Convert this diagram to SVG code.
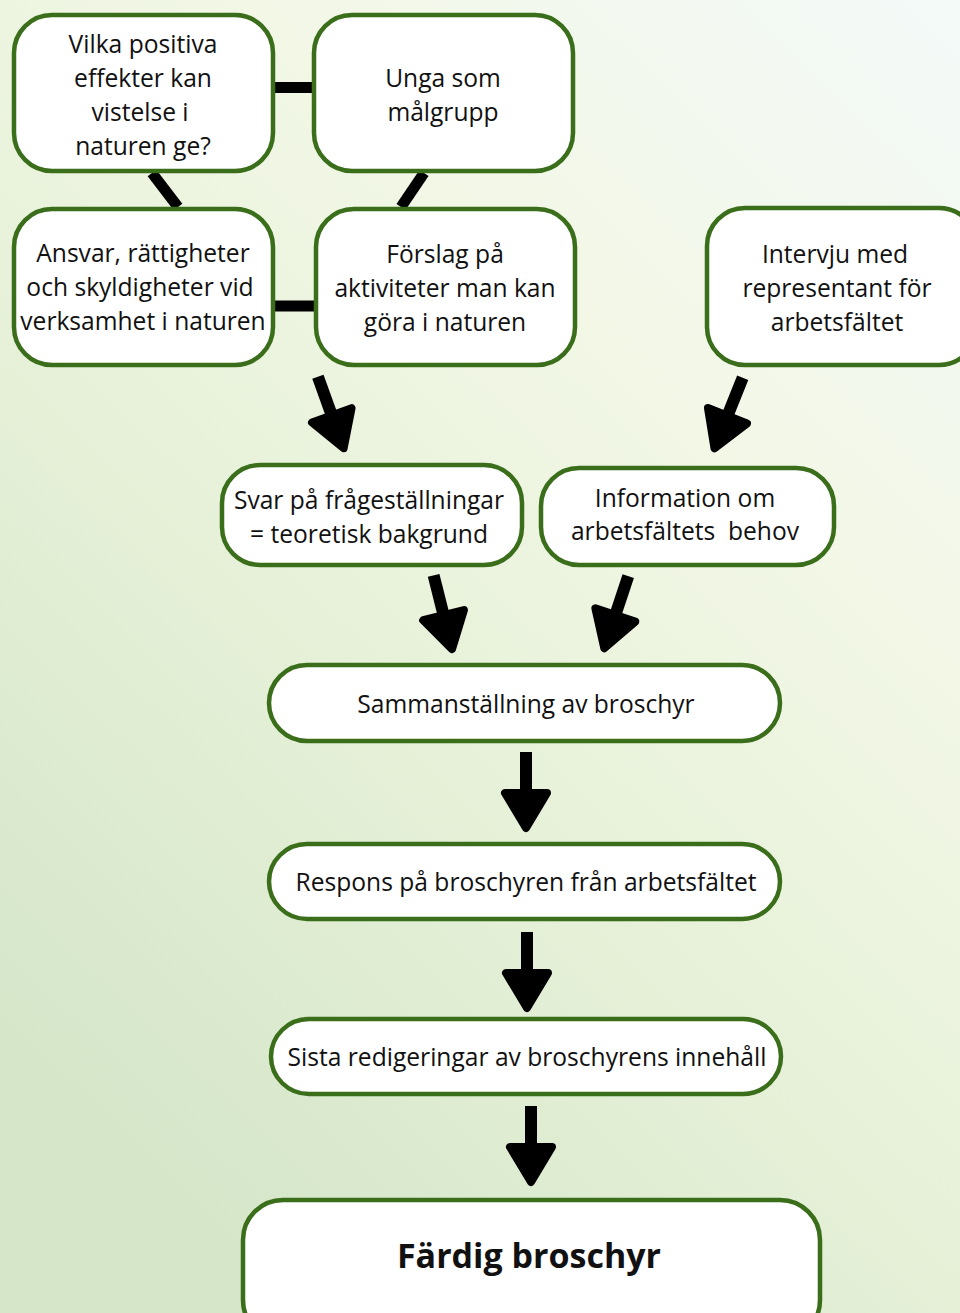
<svg xmlns="http://www.w3.org/2000/svg" width="960" height="1313" viewBox="0 0 960 1313">
<defs>
<linearGradient id="bg" x1="1" y1="0" x2="0.3" y2="1">
<stop offset="0" stop-color="#f3faf8"/>
<stop offset="0.35" stop-color="#f2f7e6"/>
<stop offset="0.6" stop-color="#e8f2da"/>
<stop offset="1" stop-color="#d5e6c9"/>
</linearGradient>
<style>
.n{fill:#fff;stroke:#3a6e1a;stroke-width:4.5}
.t{font-family:"Open Sans","Liberation Sans",sans-serif;font-size:24.6px;fill:#111;text-anchor:middle}
.b{font-weight:bold;font-size:34px}
.c{stroke:#000;stroke-width:11;fill:none}
.a{fill:#000}
.h{stroke:#000;stroke-width:8;stroke-linejoin:round}
</style>
<g id="arr">
<rect x="-6" y="-80" width="12" height="44"/>
<path class="h" d="M-21,-39 H21 L0,-4 Z"/>
</g>
</defs>
<rect width="960" height="1313" fill="url(#bg)"/>
<g id="connectors">
<line class="c" x1="274" y1="87.5" x2="313" y2="87.5"/>
<line class="c" x1="152" y1="173" x2="178" y2="207"/>
<line class="c" x1="424" y1="173" x2="401" y2="207"/>
<line class="c" x1="274" y1="306" x2="315" y2="306"/>
<g class="a">
<use href="#arr" transform="translate(345,452) rotate(-19.8)"/>
<use href="#arr" transform="translate(713,452) rotate(21.8)"/>
<use href="#arr" transform="translate(453,653) rotate(-14)"/>
<use href="#arr" transform="translate(603,652) rotate(18.4)"/>
<use href="#arr" transform="translate(526,832)"/>
<use href="#arr" transform="translate(527,1012)"/>
<use href="#arr" transform="translate(531,1186)"/>
</g>
</g>
<g id="n1"><rect class="n" x="14" y="15" width="259" height="156" rx="38"/>
<text class="t" x="143" y="53">Vilka positiva</text><text class="t" x="143" y="87">effekter kan</text><text class="t" x="140" y="121">vistelse i</text><text class="t" x="143" y="155">naturen ge?</text></g>
<g id="n2"><rect class="n" x="314" y="15" width="259" height="156" rx="38"/>
<text class="t" x="443" y="87">Unga som</text><text class="t" x="443" y="121">målgrupp</text></g>
<g id="n3"><rect class="n" x="14" y="209" width="259" height="156" rx="38"/>
<text class="t" x="143" y="262">Ansvar, rättigheter</text><text class="t" x="140" y="296">och skyldigheter vid</text><text class="t" x="143" y="330">verksamhet i naturen</text></g>
<g id="n4"><rect class="n" x="316" y="209" width="259" height="156" rx="38"/>
<text class="t" x="445" y="263">Förslag på</text><text class="t" x="445" y="297">aktiviteter man kan</text><text class="t" x="445" y="331">göra i naturen</text></g>
<g id="n5"><rect class="n" x="707" y="208" width="270" height="157" rx="38"/>
<text class="t" x="835" y="263">Intervju med</text><text class="t" x="837" y="297">representant för</text><text class="t" x="837" y="331">arbetsfältet</text></g>
<g id="n6"><rect class="n" x="222" y="465" width="300" height="100" rx="38"/>
<text class="t" x="369" y="509">Svar på frågeställningar</text><text class="t" x="369" y="543">= teoretisk bakgrund</text></g>
<g id="n7"><rect class="n" x="541" y="468" width="293" height="97" rx="38"/>
<text class="t" x="685" y="507">Information om</text><text class="t" x="685" y="540" xml:space="preserve">arbetsfältets  behov</text></g>
<g id="n8"><rect class="n" x="269" y="665" width="511" height="76" rx="38"/>
<text class="t" x="526" y="713">Sammanställning av broschyr</text></g>
<g id="n9"><rect class="n" x="269" y="844" width="511" height="75" rx="38"/>
<text class="t" x="526" y="891">Respons på broschyren från arbetsfältet</text></g>
<g id="n10"><rect class="n" x="271" y="1019" width="510" height="75" rx="38"/>
<text class="t" x="527" y="1066">Sista redigeringar av broschyrens innehåll</text></g>
<g id="n11"><rect class="n" x="243" y="1200" width="577" height="140" rx="40"/>
<text class="t b" x="529" y="1268">Färdig broschyr</text></g>
</svg>
